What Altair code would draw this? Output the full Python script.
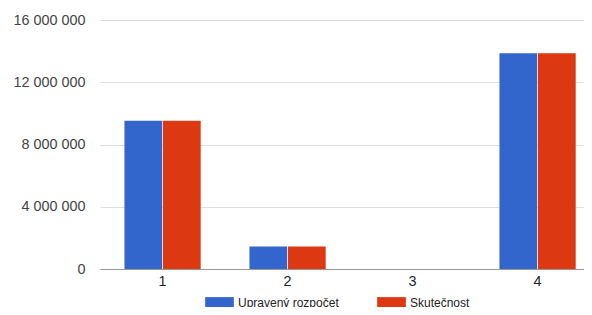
import altair as alt
import pandas as pd

categories = ["1", "2", "3", "4"]
series = ["Upravený rozpočet", "Skutečnost"]
upraveny = [9520000, 1450000, 0, 13860000]
skutecnost = [9520000, 1450000, 0, 13860000]
y_ticks = [0, 4000000, 8000000, 12000000, 16000000]

rows = []
for c, a, b in zip(categories, upraveny, skutecnost):
    rows.append({"kat": c, "serie": series[0], "hodnota": a})
    rows.append({"kat": c, "serie": series[1], "hodnota": b})
df = pd.DataFrame(rows)

FONT = "Arial, Liberation Sans"
FS = 14.4
LFS = 12

chart = alt.Chart(df).mark_bar().encode(
    x=alt.X("kat:N", sort=categories,
            scale=alt.Scale(paddingInner=0.39, paddingOuter=0.163, align=0.6),
            axis=alt.Axis(title=None, labelAngle=0, ticks=False, labelPadding=5,
                          labelFontSize=FS, labelColor="#222222", labelFont=FONT,
                          domainColor="#999999", domainWidth=1.2, grid=False)),
    xOffset=alt.XOffset("serie:N", sort=series,
                        scale=alt.Scale(paddingInner=0.02, paddingOuter=0)),
    y=alt.Y("hodnota:Q", scale=alt.Scale(domain=[0, 16000000], nice=False),
            axis=alt.Axis(title=None, values=y_ticks, ticks=False, domain=False,
                          labelPadding=15, labelFontSize=FS, labelColor="#444444",
                          labelFont=FONT, gridColor="#dddddd", gridWidth=1,
                          labelExpr="replace(format(datum.value, ','), /,/g, ' ')")),
    color=alt.Color("serie:N", sort=series,
                    scale=alt.Scale(domain=series, range=["#3366cc", "#dc3912"]),
                    legend=alt.Legend(title=None, orient="none", legendX=109, legendY=272,
                                      direction="horizontal", columns=2, padding=0,
                                      symbolType="M-1.4,-0.55H1.4V0.55H-1.4Z", symbolSize=420,
                                      symbolStrokeWidth=0, symbolOpacity=1,
                                      labelFontSize=LFS, labelFont=FONT, labelColor="#222222",
                                      labelOffset=8, columnPadding=38)),
).properties(
    width=492, height=249,
    autosize=alt.AutoSizeParams(type="none"),
    padding={"left": 92, "top": 12, "right": -8, "bottom": 38},
).configure_view(stroke=None)

chart.save("out.html", embed_options={"renderer": "svg", "actions": False})
